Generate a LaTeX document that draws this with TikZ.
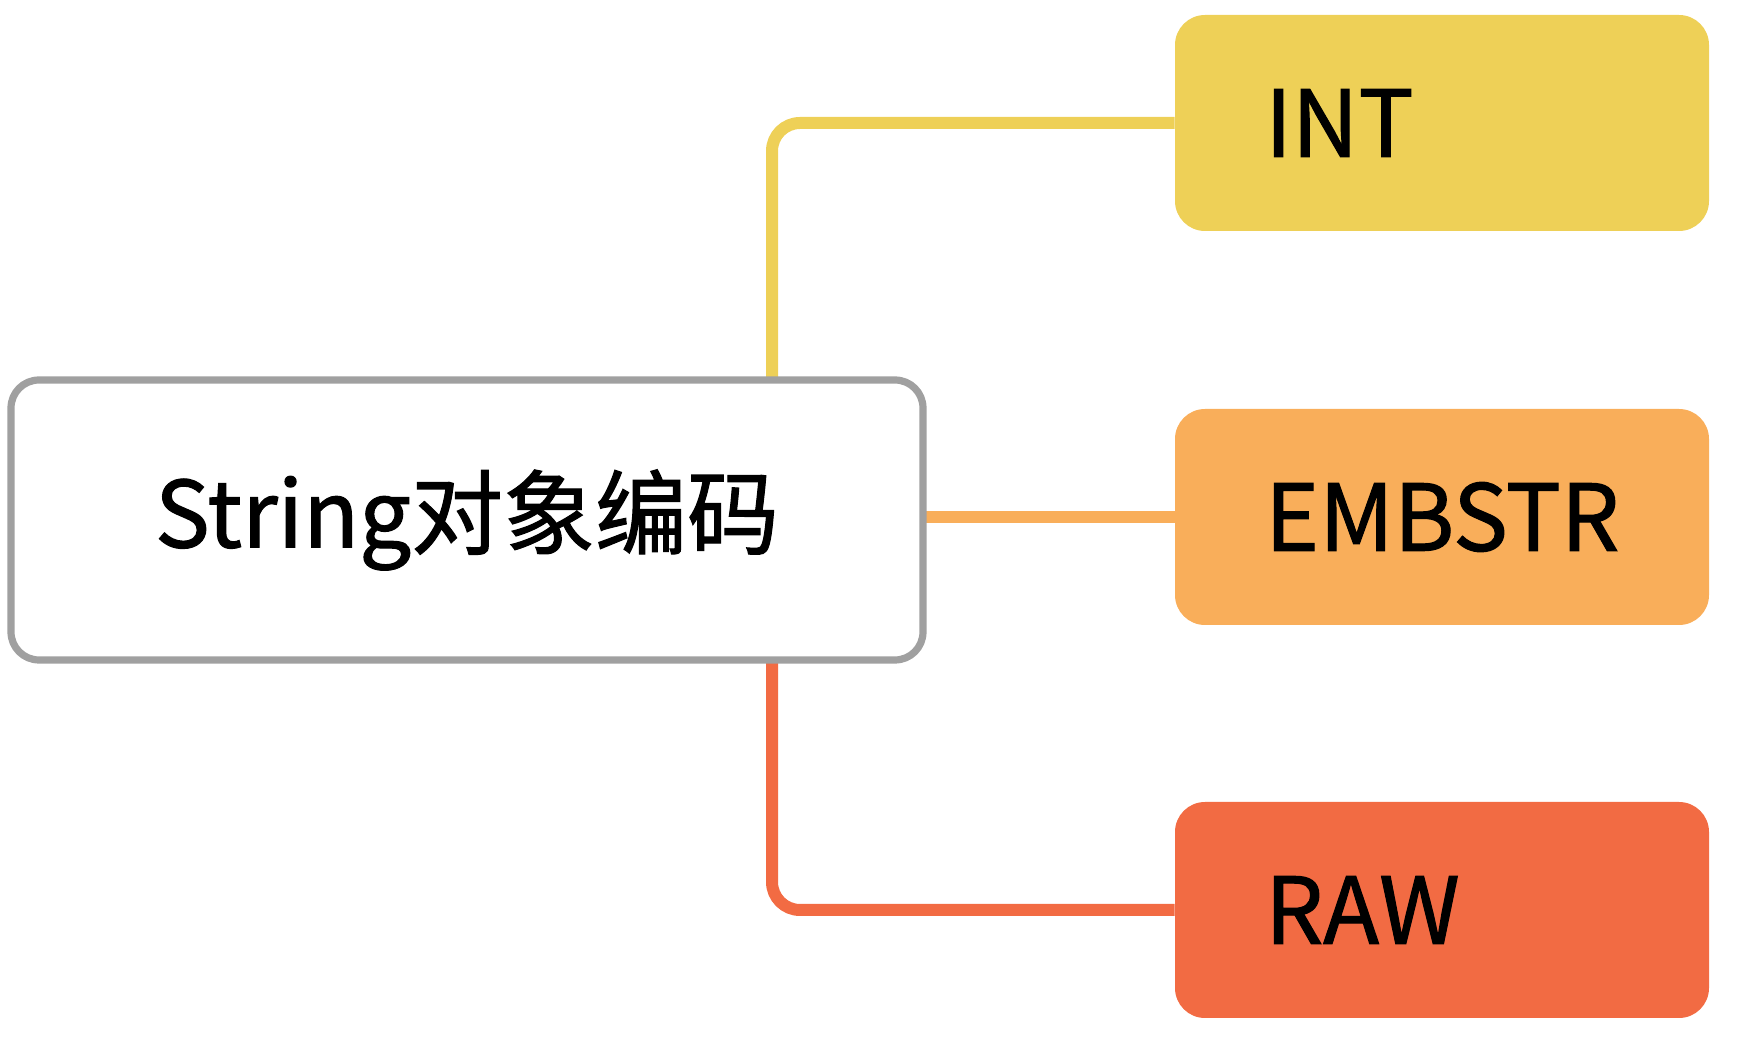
\documentclass[tikz,border=0pt]{standalone}
\usepackage{fontspec}
\setmainfont{Noto Sans CJK SC}[FakeBold=1.2]
\definecolor{cyel}{HTML}{EED057}
\definecolor{corg}{HTML}{F9AE5A}
\definecolor{cred}{HTML}{F26B43}
\definecolor{cgray}{HTML}{A0A0A0}
\begin{document}
\begin{tikzpicture}[x=0.5pt,y=-0.5pt,
  rootbox/.style={draw=cgray,line width=3.6pt,fill=white,rounded corners=14pt,
    minimum width=456pt,minimum height=140pt,inner sep=0pt,font=\fontsize{46}{50}\selectfont},
  leafbox/.style={rounded corners=15pt,minimum width=267pt,minimum height=108pt,
    inner xsep=45pt,inner ysep=0pt,text width=177pt,align=left,font=\fontsize{46}{50}\selectfont},
  conn/.style={line width=6pt,rounded corners=14pt}]
\useasboundingbox (0,0) rectangle (1742,1052);
\node[leafbox,fill=cyel] (int) at (1442,123) {INT};
\node[leafbox,fill=corg] (emb) at (1442,517) {EMBSTR};
\node[leafbox,fill=cred] (raw) at (1442,910) {RAW};
\coordinate (j) at (772,520);
\draw[conn,cyel] (j |- 0,380) |- (int.west);
\draw[conn,cred] (j |- 0,660) |- (raw.west);
\draw[conn,corg] (900,517) -- (emb.west);
\node[rootbox] (root) at (467,520) {String对象编码};
\end{tikzpicture}
\end{document}
